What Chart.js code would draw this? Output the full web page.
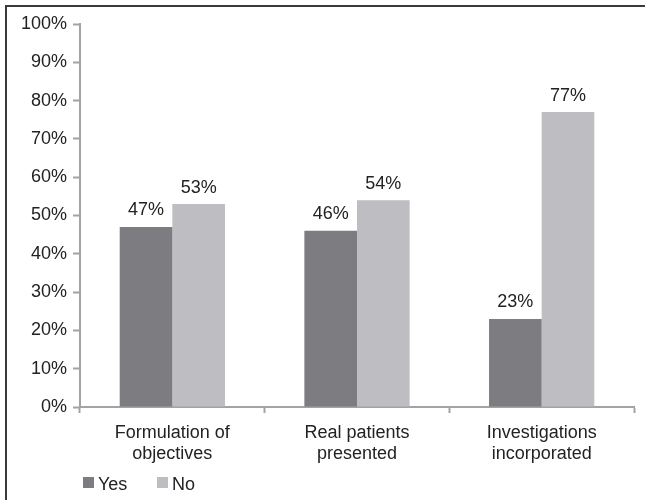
<!DOCTYPE html>
<html>
<head>
<meta charset="utf-8">
<script src="https://cdn.jsdelivr.net/npm/chart.js@4/dist/chart.umd.min.js"></script>
<style>
  html, body { margin: 0; padding: 0; background: #fff; overflow: hidden; }
  canvas { display: block; }
</style>
</head>
<body>
<canvas id="c" width="645" height="500"></canvas>
<script>
// Survey answers per presentation aspect (percent)
const categories = [
  ["Formulation of", "objectives"],
  ["Real patients", "presented"],
  ["Investigations", "incorporated"]
];
const seriesNames = ["Yes", "No"];
const yesValues = [47, 46, 23];
const noValues = [53, 54, 77];
const yTicks = [0, 10, 20, 30, 40, 50, 60, 70, 80, 90, 100];

const FONT = "'Liberation Sans', Arial, sans-serif";
const FS = 18;
const TEXT = "#222";
const AXIS = "#a3a3a3";
const COLORS = ["#7d7d81", "#bebec2"];

// Dark frame along the left and top edges
const frame = {
  id: "frame",
  beforeDraw(chart) {
    const ctx = chart.ctx;
    ctx.save();
    ctx.strokeStyle = "#3a3a3a";
    ctx.lineWidth = 2;
    ctx.beginPath();
    ctx.moveTo(6, 500);
    ctx.lineTo(6, 6);
    ctx.lineTo(645, 6);
    ctx.stroke();
    ctx.restore();
  }
};

// Percent labels above each bar
const valueLabels = {
  id: "valueLabels",
  afterDatasetsDraw(chart) {
    const ctx = chart.ctx;
    ctx.save();
    ctx.font = FS + "px " + FONT;
    ctx.fillStyle = TEXT;
    ctx.textAlign = "center";
    ctx.textBaseline = "alphabetic";
    chart.data.datasets.forEach((ds, i) => {
      chart.getDatasetMeta(i).data.forEach((bar, j) => {
        ctx.fillText(ds.data[j] + "%", bar.x, bar.y - 11.5);
      });
    });
    ctx.restore();
  }
};

// Legend row under the category labels
const bottomLegend = {
  id: "bottomLegend",
  afterDraw(chart) {
    const ctx = chart.ctx;
    ctx.save();
    ctx.font = FS + "px " + FONT;
    ctx.textBaseline = "alphabetic";
    let x = chart.chartArea.left + 3;
    const y = 477;
    chart.data.datasets.forEach((ds) => {
      ctx.fillStyle = ds.backgroundColor;
      ctx.fillRect(x, y, 11, 11);
      ctx.fillStyle = TEXT;
      ctx.fillText(ds.label, x + 15, y + 12.5);
      x += 74;
    });
    ctx.restore();
  }
};

new Chart(document.getElementById("c"), {
  type: "bar",
  data: {
    labels: categories,
    datasets: [
      { label: seriesNames[0], data: yesValues, backgroundColor: COLORS[0] },
      { label: seriesNames[1], data: noValues, backgroundColor: COLORS[1] }
    ]
  },
  options: {
    responsive: false,
    animation: false,
    devicePixelRatio: 1,
    layout: { padding: { top: 24, right: 11, bottom: 0, left: 0 } },
    datasets: { bar: { categoryPercentage: 0.57, barPercentage: 1.0, borderWidth: 0 } },
    plugins: { legend: { display: false }, tooltip: { enabled: false } },
    scales: {
      x: {
        grid: { display: true, drawOnChartArea: false, drawTicks: true, tickLength: 6,
                tickWidth: 2, tickColor: AXIS, offset: true },
        border: { display: true, color: AXIS, width: 2 },
        ticks: { color: TEXT, padding: 10, maxRotation: 0, autoSkip: false,
                 font: { family: FONT, size: FS, lineHeight: 1.15 } },
        afterFit(scale) { scale.height = 93; }
      },
      y: {
        min: 0, max: 100,
        afterBuildTicks(scale) { scale.ticks = yTicks.map(v => ({ value: v })); },
        grid: { display: true, drawOnChartArea: false, drawTicks: true, tickLength: 7,
                tickWidth: 2, tickColor: AXIS },
        border: { display: true, color: AXIS, width: 2 },
        ticks: { color: TEXT, padding: 6, callback: v => v + "%",
                 font: { family: FONT, size: FS } },
        afterFit(scale) { scale.width = 80; }
      }
    }
  },
  plugins: [frame, valueLabels, bottomLegend]
});
</script>
</body>
</html>
